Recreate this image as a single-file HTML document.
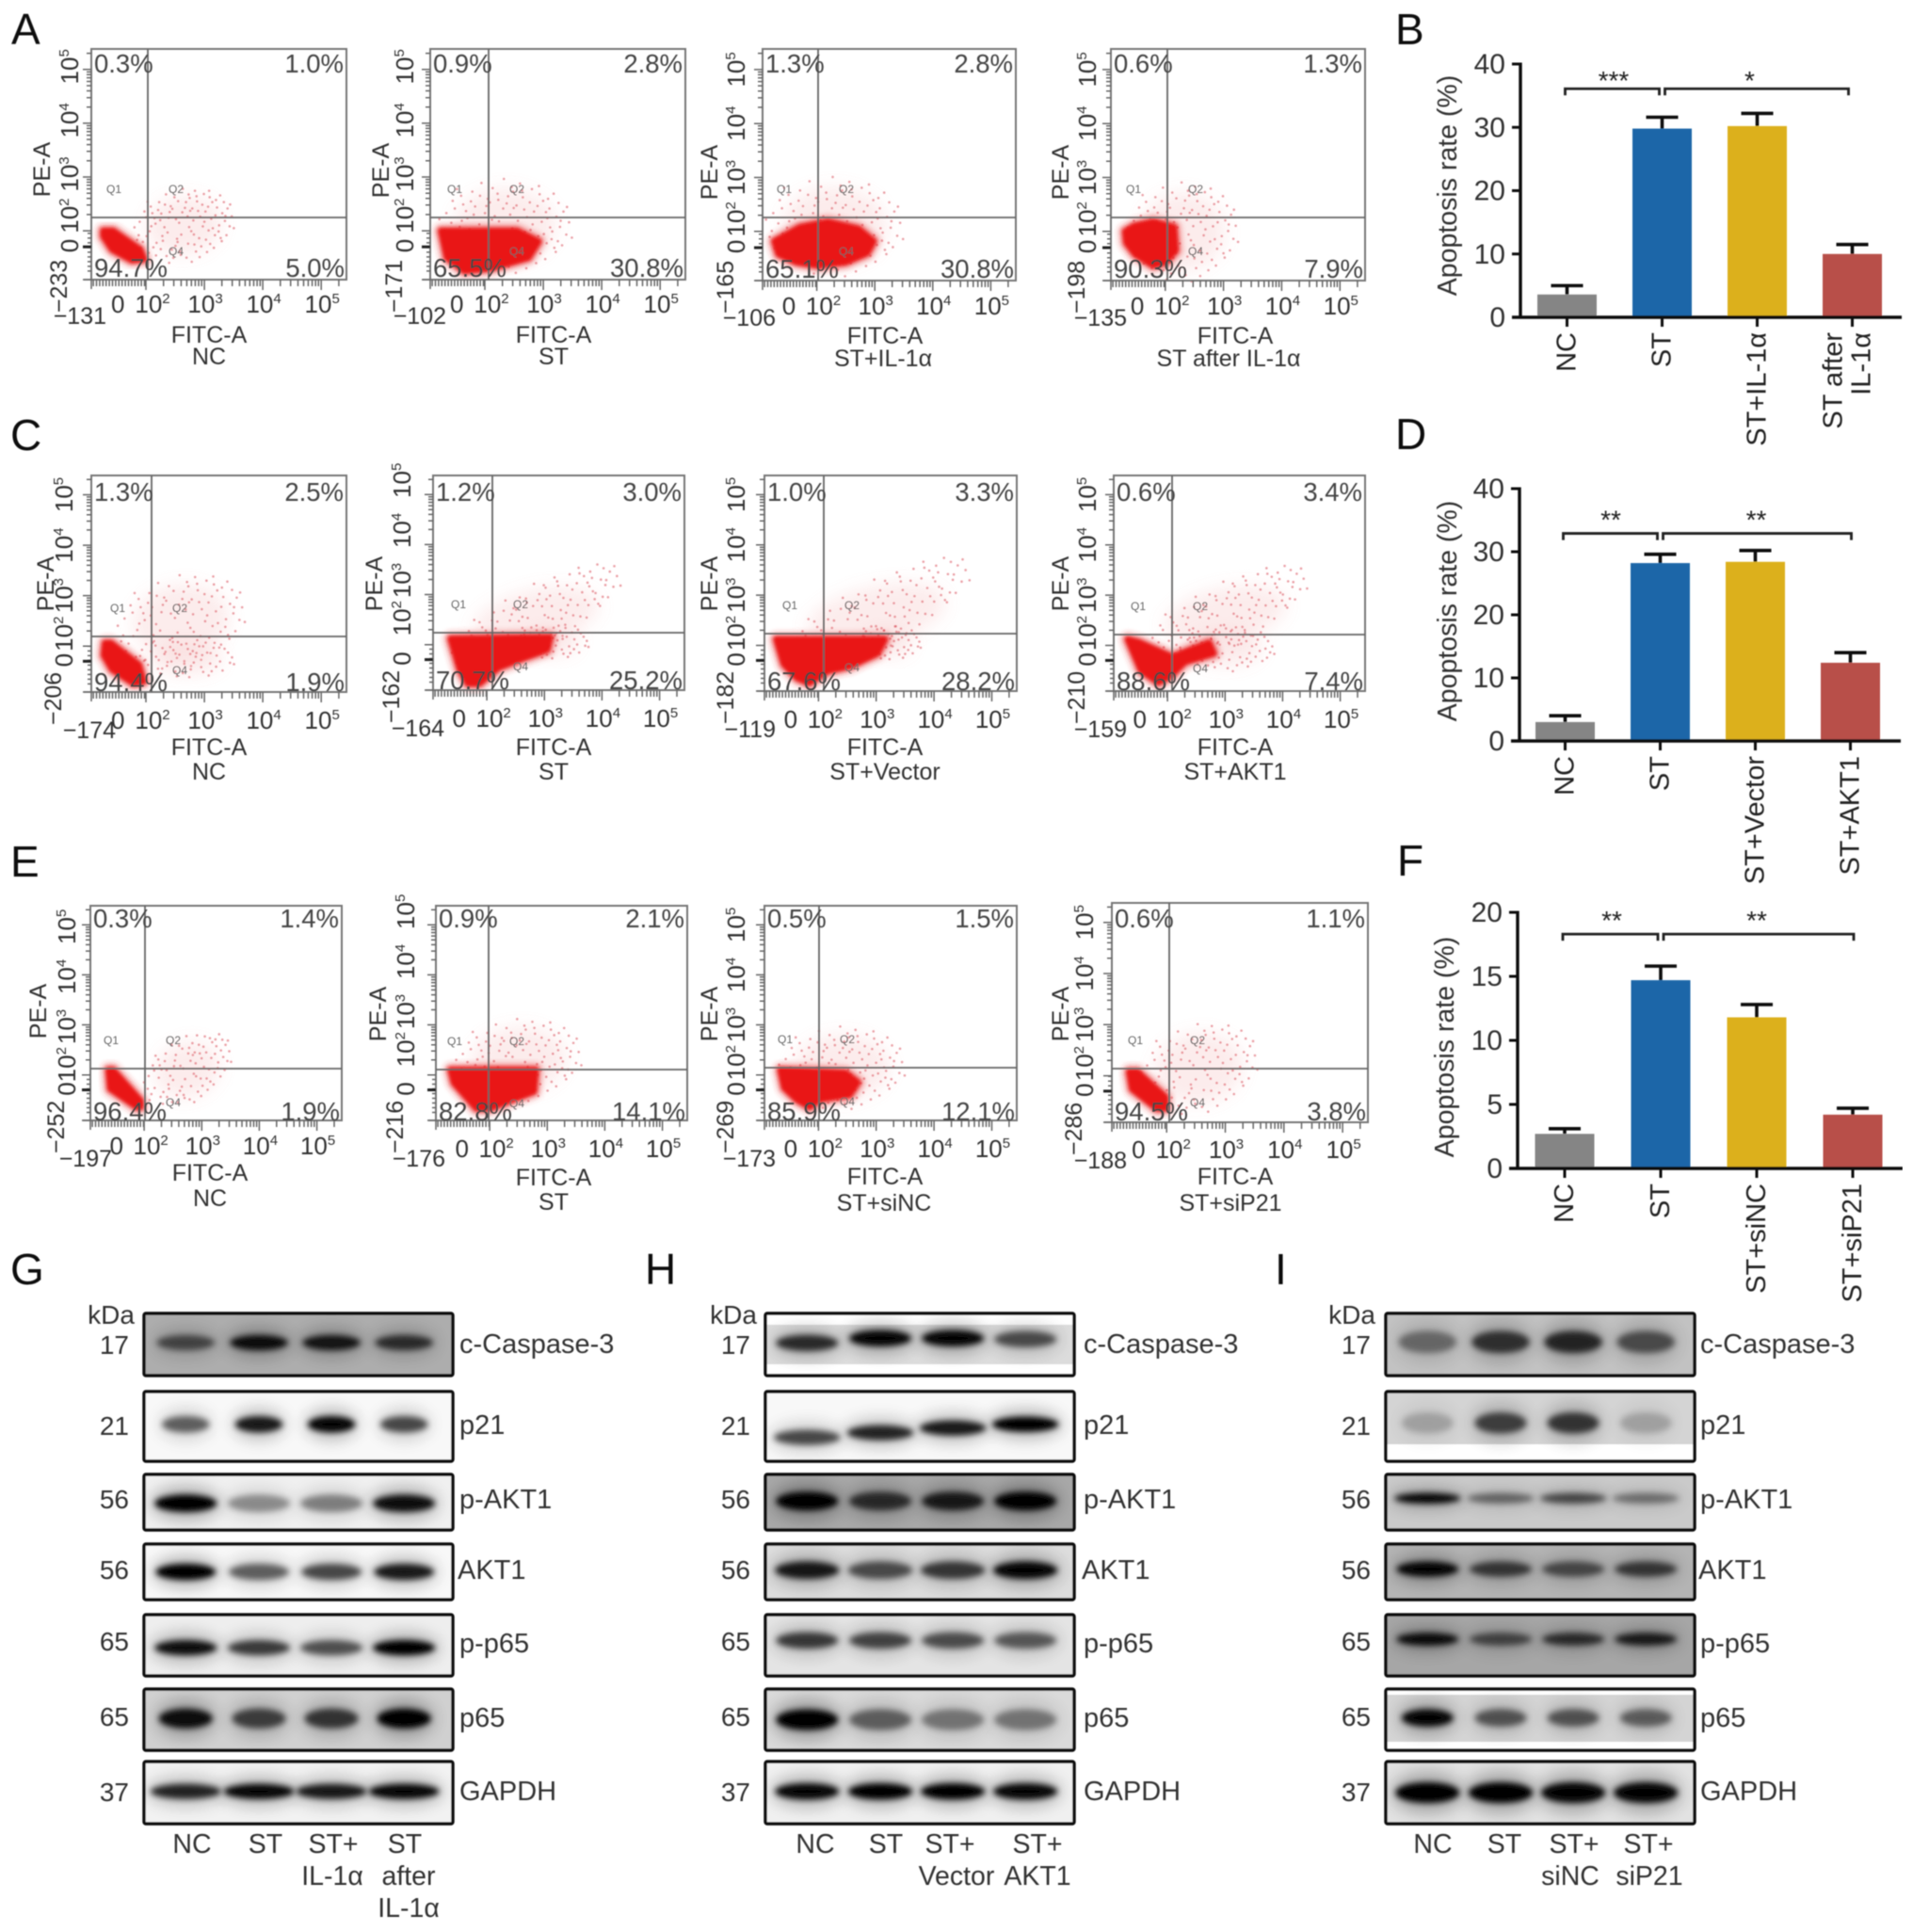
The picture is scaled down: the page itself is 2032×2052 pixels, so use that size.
<!DOCTYPE html>
<html lang="en">
<head>
<meta charset="utf-8">
<title>Apoptosis flow cytometry, bar charts and western blots</title>
<style>
html,body{margin:0;padding:0;background:#fff;}
svg{display:block;position:absolute;left:0;top:0;font-family:"Liberation Sans",Arial,sans-serif;}
</style>
</head>
<body>
<svg id="figure" xmlns="http://www.w3.org/2000/svg" width="2032" height="2052" viewBox="0 0 2032 2052">
<defs>
<filter id="page" x="0" y="0" width="100%" height="100%"><feGaussianBlur stdDeviation="0.55"/></filter>
<filter id="soft" x="-20%" y="-20%" width="140%" height="140%"><feGaussianBlur stdDeviation="1.8"/></filter>
<filter id="fringe" x="-30%" y="-30%" width="160%" height="160%"><feGaussianBlur stdDeviation="3"/></filter>
<filter id="haze" x="-40%" y="-40%" width="180%" height="180%"><feGaussianBlur stdDeviation="9"/></filter>
<filter id="band" x="-30%" y="-100%" width="160%" height="300%"><feGaussianBlur stdDeviation="3.2"/></filter>
<filter id="halo" x="-40%" y="-100%" width="180%" height="300%"><feGaussianBlur stdDeviation="8"/></filter>
</defs>
<rect width="2032" height="2052" fill="#fff"/>
<g id="root" filter="url(#page)"></g>
</svg>
<script>
// ---------- bar chart data ----------
const barCategoriesB = [["NC"],["ST"],["ST+IL-1α"],["ST after","IL-1α"]];
const barValuesB = [3.6, 29.8, 30.2, 10.0];
const barErrorTopsB = [5.0, 31.6, 32.2, 11.5];
const barTicksB = [0, 10, 20, 30, 40];
const barStarsB = ["***", "*"];
const barBracketValueB = 36.1;

const barCategoriesD = [["NC"],["ST"],["ST+Vector"],["ST+AKT1"]];
const barValuesD = [3.0, 28.2, 28.4, 12.4];
const barErrorTopsD = [4.0, 29.6, 30.2, 14.0];
const barTicksD = [0, 10, 20, 30, 40];
const barStarsD = ["**", "**"];
const barBracketValueD = 32.9;

const barCategoriesF = [["NC"],["ST"],["ST+siNC"],["ST+siP21"]];
const barValuesF = [2.7, 14.7, 11.8, 4.2];
const barErrorTopsF = [3.1, 15.8, 12.8, 4.7];
const barTicksF = [0, 5, 10, 15, 20];
const barStarsF = ["**", "**"];
const barBracketValueF = 18.3;

// ---------- flow cytometry data ----------
const flowSampleLabels = ["NC","ST","ST+IL-1α","ST after IL-1α","NC","ST","ST+Vector","ST+AKT1","NC","ST","ST+siNC","ST+siP21"];
const flowQuadrantPercents = [
 ["0.3%","1.0%","94.7%","5.0%"],["0.9%","2.8%","65.5%","30.8%"],["1.3%","2.8%","65.1%","30.8%"],["0.6%","1.3%","90.3%","7.9%"],
 ["1.3%","2.5%","94.4%","1.9%"],["1.2%","3.0%","70.7%","25.2%"],["1.0%","3.3%","67.6%","28.2%"],["0.6%","3.4%","88.6%","7.4%"],
 ["0.3%","1.4%","96.4%","1.9%"],["0.9%","2.1%","82.8%","14.1%"],["0.5%","1.5%","85.9%","12.1%"],["0.6%","1.1%","94.5%","3.8%"]];
const flowAxisMinX = [131,102,106,135,174,164,119,159,197,176,173,188];
const flowAxisMinY = [233,171,165,198,206,162,182,210,252,216,269,286];
const flowDecadeExponents = [2,3,4,5];
// dense event populations, outlines as [log10 FITC, log10 PE]
const flowDensePopulations = [
 [[1.27,2.0],[1.44,2.0],[1.9,1.65],[1.97,1.47],[1.76,1.45],[1.42,1.65],[1.27,1.9]],
 [[1.25,2.0],[2.55,2.0],[2.92,1.8],[2.75,1.5],[2.1,1.3],[1.65,1.25],[1.35,1.5]],
 [[1.27,1.82],[1.71,2.08],[2.19,2.18],[2.72,2.05],[2.98,1.82],[2.87,1.6],[2.5,1.43],[2.03,1.37],[1.65,1.43],[1.34,1.58]],
 [[1.31,2.0],[1.46,2.1],[1.79,2.18],[2.15,2.08],[2.18,1.65],[2.0,1.43],[1.79,1.37],[1.48,1.58],[1.33,1.79]],
 [[1.3,2.06],[1.40,2.06],[1.88,1.63],[1.96,1.3],[1.79,1.26],[1.42,1.54],[1.28,1.82]],
 [[1.37,2.12],[3.1,2.15],[3.05,1.9],[2.66,1.74],[2.2,1.54],[1.87,1.22],[1.67,1.22],[1.53,1.5]],
 [[1.27,2.12],[3.15,2.12],[3.02,1.84],[2.56,1.59],[2.16,1.49],[1.84,1.25],[1.63,1.35],[1.4,1.63]],
 [[1.31,2.12],[1.51,2.06],[2.08,1.77],[2.72,2.05],[2.8,1.84],[2.3,1.67],[2.06,1.4],[1.84,1.26],[1.54,1.5]],
 [[1.38,2.1],[1.46,2.1],[1.94,1.48],[1.94,1.36],[1.87,1.36],[1.41,1.72]],
 [[1.32,2.1],[2.8,2.1],[2.77,1.67],[2.38,1.5],[2,1.33],[1.77,1.33],[1.38,1.84]],
 [[1.34,2.1],[2.47,2.04],[2.68,1.85],[2.54,1.6],[2.02,1.51],[1.85,1.36],[1.63,1.5],[1.41,1.74]],
 [[1.36,2.08],[1.5,2.08],[1.98,1.58],[1.98,1.36],[1.83,1.36],[1.41,1.74]]];
// sparse event clouds: [centre FITC, centre PE, spread FITC, spread PE, event count, diagonal lean]
const flowSparseClouds = [
 [[2.65,2.1,.9,.75,110,.15]],
 [[2.35,2.1,1.2,.95,120,0]],
 [[2.3,2.1,1.25,1.0,120,0]],
 [[2.3,2.0,1.0,1.0,110,.05]],
 [[2.6,2.5,1.15,1.0,110,.2],[2.7,1.75,.85,.45,50,0]],
 [[2.85,2.55,1.55,.75,120,.55],[3.1,2.05,.7,.4,50,0]],
 [[3.0,2.6,1.7,.8,120,.55],[3.2,2.05,.6,.4,50,0]],
 [[3.0,2.6,1.5,.75,120,.5],[3.0,1.95,.9,.5,70,0]],
 [[2.75,2.1,.8,.75,90,.45]],
 [[2.5,2.3,1.15,.9,120,.1]],
 [[2.4,2.15,1.15,.9,120,.05]],
 [[2.55,2.15,1.05,.95,110,.2]]];
// event scatter, unit-spread offsets
const flowCloudEvents = [[.12,.34],[-.45,.21],[.67,-.12],[-.23,-.56],[.38,.71],[-.72,.33],[.05,-.81],[.83,.27],[-.58,-.44],[.29,-.37],
[-.11,.62],[.54,.48],[-.86,-.09],[.18,.09],[-.34,.83],[.72,-.52],[-.05,-.22],[.44,-.74],[-.63,.58],[.91,.06],
[.25,.55],[-.31,-.12],[.6,.14],[-.15,.18],[.08,-.47],[-.78,-.27],[.47,-.21],[-.49,.47],[.33,-.58],[.76,.44],
[-.2,-.77],[.02,.43],[-.94,.12],[.59,-.35],[-.4,-.31],[.21,.82],[-.62,.09],[.87,-.18],[.14,-.17],[-.27,.38],
[.41,.27],[-.53,-.65],[.69,.62],[-.08,-.63],[.31,.16],[-.69,.71],[.5,-.55],[-.18,.73],[.95,-.24],[.07,.21],
[-.37,.02],[.63,.33],[-.82,-.41],[.23,-.69],[-.12,-.39],[.35,.45],[-.56,.28],[.78,-.03],[.11,.66],[-.44,-.51],
[.52,.07],[-.25,.52],[.15,-.93],[-.71,-.14],[.42,-.43],[-.02,.91],[.81,-.39],[-.33,-.7],[.27,.31],[-.6,.41],
[.66,-.27],[-.09,.08],[.49,.61],[-.47,.66],[.19,-.26],[-.84,.24],[.73,.17],[-.16,-.48],[.36,-.09],[-.29,.24],
[.57,-.66],[.04,.57],[-.75,.48],[.88,.36],[-.41,-.19],[.16,.39],[-.52,-.34],[.61,.52],[-.06,-.72],[.3,-.84],
[-.22,.45],[.46,.38],[-.67,-.56],[.1,-.06],[.7,-.44],[-.36,.58],[.24,.68],[-.13,-.31],[.55,-.17],[-.89,-.2],
[.39,.02],[-.03,.33],[-.54,.14],[.79,.09],[.2,-.51],[-.65,-.03],[.48,.77],[-.28,-.88],[.09,.75],[-.43,.37],
[.64,-.04],[-.19,.11],[.34,-.27],[-.77,.05],[.58,.26],[-.1,.5],[.28,-.13],[-.51,-.08],[.75,-.31],[.01,-.36]];

// ---------- western blot data ----------
const blotRowLabels = ["c-Caspase-3","p21","p-AKT1","AKT1","p-p65","p65","GAPDH"];
const blotWeights = ["17","21","56","56","65","65","37"];
const blotLaneLabelsG = [["NC"],["ST"],["ST+","IL-1α"],["ST","after","IL-1α"]];
const blotLaneLabelsH = [["NC"],["ST"],["ST+","Vector"],["ST+","AKT1"]];
const blotLaneLabelsI = [["NC"],["ST"],["ST+","siNC"],["ST+","siP21"]];
const blotIntensityG = [[.55,.9,.85,.7],[.55,.85,.95,.65],[1,.35,.4,.9],[1,.55,.65,.85],[.9,.7,.6,1],[.9,.65,.7,1],[.8,.95,.85,.95]];
const blotIntensityH = [[.75,.95,.95,.6],[.65,.8,.85,1],[1,.7,.8,1],[.85,.6,.7,.95],[.7,.65,.6,.55],[1,.5,.4,.4],[.95,1,1,.95]];
const blotIntensityI = [[.4,.7,.75,.55],[.2,.65,.7,.2],[.95,.45,.6,.4],[.95,.65,.55,.65],[.9,.55,.7,.8],[.95,.55,.55,.5],[1,1,.95,.95]];

// ---------- layout (pixels, not data) ----------
const SVGNS = "http://www.w3.org/2000/svg";
const root = document.getElementById("root");
function svgEl(tag, attrs, parent){
  const e = document.createElementNS(SVGNS, tag);
  for(const k in attrs) e.setAttribute(k, attrs[k]);
  (parent || root).appendChild(e);
  return e;
}
function txt(parent, str, x, y, size, fill, anchor, extra){
  const a = Object.assign({x:x, y:y, "font-size":size, fill:fill, "text-anchor":anchor||"start"}, extra||{});
  const e = svgEl("text", a, parent);
  e.textContent = str;
  return e;
}
function slug(s){ return s.toLowerCase().replace(/[^a-z0-9]+/g,"-").replace(/^-|-$/g,""); }

// panel letters
const letterLayout = [["A",12,47],["B",1482,47],["C",11,478],["D",1482,477],["E",11,931],["F",1484,930],["G",11,1364],["H",685,1364],["I",1354,1364]];
letterLayout.forEach(function(l){
  const el = txt(root, l[0], l[1], l[2], 46, "#111");
  
  
});

// ---------- flow plots ----------
const flowFrames = [
 {L:97,R:368,T:52,B:297,gx:157,gy:231,pb:53,pc:180,fx:222,sx:222,fy:364,sy:387,minDx:16,yb:-14,ys:-3,to:25,bo:3,ty:35,my:47},
 {L:457,R:728,T:52,B:297,gx:519,gy:231,pb:413,pc:181,fx:588,sx:588,fy:364,sy:387,minDx:17,yb:-18,ys:-3,to:25,bo:3,ty:35,my:47},
 {L:810,R:1079,T:52,B:298,gx:869,gy:231,pb:762,pc:183,fx:940,sx:938,fy:365,sy:389,minDx:14,yb:-19,ys:0,to:25,bo:3,ty:36,my:48},
 {L:1180,R:1450,T:52,B:298,gx:1240,gy:231,pb:1135,pc:183,fx:1312,sx:1305,fy:365,sy:389,minDx:17,yb:-16,ys:0,to:25,bo:3,ty:36,my:48},
 {L:97,R:368,T:505,B:735,gx:161,gy:676,pb:57,pc:620,fx:222,sx:222,fy:802,sy:828,minDx:26,yb:-20,ys:0,to:27,bo:1,ty:39,my:49},
 {L:460,R:727,T:505,B:733,gx:523,gy:672,pb:406,pc:620,fx:588,sx:588,fy:802,sy:828,minDx:12,yb:-24,ys:-15,to:27,bo:1,ty:39,my:49},
 {L:812,R:1080,T:505,B:734,gx:875,gy:673,pb:762,pc:620,fx:940,sx:940,fy:802,sy:828,minDx:12,yb:-21,ys:0,to:27,bo:1,ty:39,my:49},
 {L:1183,R:1450,T:505,B:734,gx:1245,gy:674,pb:1135,pc:620,fx:1312,sx:1312,fy:802,sy:828,minDx:14,yb:-19,ys:0,to:27,bo:1,ty:39,my:49},
 {L:96,R:363,T:962,B:1190,gx:154,gy:1135,pb:49,pc:1074,fx:223,sx:223,fy:1254,sy:1281,minDx:23,yb:-16,ys:2,to:23,bo:0,ty:36,my:49},
 {L:463,R:730,T:962,B:1190,gx:519,gy:1136,pb:410,pc:1077,fx:588,sx:588,fy:1259,sy:1285,minDx:10,yb:-23,ys:-14,to:23,bo:0,ty:39,my:49},
 {L:812,R:1080,T:962,B:1190,gx:870,gy:1134,pb:762,pc:1077,fx:940,sx:939,fy:1258,sy:1286,minDx:12,yb:-21,ys:0,to:23,bo:0,ty:39,my:49},
 {L:1181,R:1453,T:959,B:1192,gx:1242,gy:1135,pb:1135,pc:1077,fx:1312,sx:1307,fy:1258,sy:1286,minDx:16,yb:-20,ys:0,to:26,bo:2,ty:38,my:49}];

function flowX(f, dec){ const W = f.R - f.L; return f.L + (0.214 + (dec - 2) * 0.229) * W; }
function flowY(f, dec){ const H = f.B - f.T; return f.B - (0.212 + (dec - 2) * 0.233) * H; }

flowFrames.forEach(function(f, i){
  const g = svgEl("g", {});
  
  

  // sparse cloud haze and events
  flowSparseClouds[i].forEach(function(c){
    const cx = flowX(f, c[0]), cy = flowY(f, c[1]);
    const rx = c[2] * 0.229 * (f.R - f.L), ry = c[3] * 0.233 * (f.B - f.T);
    const lean = (-Math.atan2(c[5] * ry, rx) * 180 / Math.PI).toFixed(1);
    const haze = svgEl("ellipse", {cx:cx, cy:cy, rx:rx*0.72, ry:ry*0.72, fill:"#f0a0a0", opacity:0.2, filter:"url(#haze)", transform:"rotate(" + lean + " " + cx + " " + cy + ")"}, g);
    
    
    flowCloudEvents.slice(0, c[4]).forEach(function(ev){
      const dot = svgEl("circle", {cx:flowX(f, c[0] + ev[0]*c[2]), cy:flowY(f, c[1] + ev[1]*c[3] + ev[0]*c[2]*c[5]), r:1.3, fill:"#d8444f", opacity:0.5}, g);
      
      
    });
  });

  // dense population
  const pts = flowDensePopulations[i].map(function(p){ return flowX(f, p[0]).toFixed(1) + "," + flowY(f, p[1]).toFixed(1); }).join(" ");
  const fringe = svgEl("polygon", {points:pts, fill:"#e83030", stroke:"#e83030", "stroke-width":15, "stroke-linejoin":"round", opacity:0.4, filter:"url(#fringe)"}, g);
  
  
  const dense = svgEl("polygon", {points:pts, fill:"#e91414", stroke:"#e91414", "stroke-width":7, "stroke-linejoin":"round", filter:"url(#soft)"}, g);
  
  

  // frame and gates
  const frame = svgEl("rect", {x:f.L, y:f.T, width:f.R-f.L, height:f.B-f.T, fill:"none", stroke:"#777", "stroke-width":2}, g);
  
  
  const gateV = svgEl("line", {x1:f.gx, x2:f.gx, y1:f.T, y2:f.B, stroke:"#666", "stroke-width":1.8}, g);
  
  
  const gateH = svgEl("line", {x1:f.L, x2:f.R, y1:f.gy, y2:f.gy, stroke:"#666", "stroke-width":1.8}, g);
  
  

  // axis ticks
  let dTicksX = "M" + f.L + " " + f.B + "v10M" + (f.L - 8) + " " + f.B + "h8";
  let dTicksY = "M" + (f.L - 9) + " " + f.B + "h9";
  for(let d = flowX(f, 1.1); d < flowX(f, 2); d += 3.4) dTicksX += "M" + d.toFixed(1) + " " + f.B + "v7";
  for(let d = flowY(f, 1.25); d > flowY(f, 2); d -= 5) dTicksY += "M" + (f.L - 4) + " " + d.toFixed(1) + "h4";
  flowDecadeExponents.forEach(function(e){
    dTicksX += "M" + flowX(f, e).toFixed(1) + " " + f.B + "v11";
    dTicksY += "M" + (f.L - 9) + " " + flowY(f, e).toFixed(1) + "h9";
    [2,3,4,5,6,7,8,9].forEach(function(m){
      const o = e + Math.log10(m);
      if(flowX(f, o) < f.R) dTicksX += "M" + flowX(f, o).toFixed(1) + " " + f.B + "v7";
      if(flowY(f, o) > f.T) dTicksY += "M" + (f.L - 5) + " " + flowY(f, o).toFixed(1) + "h5";
    });
  });
  const tx = svgEl("path", {d:dTicksX, stroke:"#666", "stroke-width":1.5, fill:"none"}, g);
  
  
  const ty = svgEl("path", {d:dTicksY, stroke:"#666", "stroke-width":1.5, fill:"none"}, g);
  
  
  const zeroTick = svgEl("line", {x1:f.L-9, x2:f.L, y1:flowY(f,1.7), y2:flowY(f,1.7), stroke:"#222", "stroke-width":3}, g);
  
  

  // quadrant percentages
  const q = flowQuadrantPercents[i];
  const qa = [[f.L+3, f.T+f.to, "start"],[f.R-3, f.T+f.to, "end"],[f.L+3, f.B-f.bo, "start"],[f.R-2, f.B-f.bo, "end"]];
  q.forEach(function(v, k){
    const t = txt(g, v, qa[k][0], qa[k][1], 27.5, "#444", qa[k][2]);
    
    
  });
  [["Q1",f.gx-36,f.gy-26],["Q2",f.gx+30,f.gy-26],["Q4",f.gx+30,f.gy+40]].forEach(function(ql){
    const t = txt(g, ql[0], ql[1], ql[2], 12, "#666", "middle");
    
    
  });

  // x tick labels
  flowDecadeExponents.forEach(function(e){
    const t = txt(g, "10", flowX(f, e) + 1 + (e === 2 ? 6 : 0), f.B + f.ty, 26, "#333", "middle");
    const s = svgEl("tspan", {dy:-10, "font-size":15}, t);
    s.textContent = e;
    
    
  });
  const xz = txt(g, "0", flowX(f, 1.52), f.B + f.ty, 26, "#333", "middle");
  
  
  const xm = txt(g, "−" + flowAxisMinX[i], f.L + f.minDx, f.B + f.my, 25, "#333", "end");
  
  

  // y tick labels (rotated)
  const by = f.L + f.yb;
  flowDecadeExponents.forEach(function(e){
    const cy = flowY(f, e) + f.ys + (e === 2 ? -13 : 0);
    const t = txt(g, "10", by, cy, 26, "#333", "middle", {transform:"rotate(-90 " + by + " " + cy.toFixed(1) + ")"});
    const s = svgEl("tspan", {dy:-10, "font-size":15}, t);
    s.textContent = e;
    
    
  });
  const zy = flowY(f, 1.72);
  const yz = txt(g, "0", by, zy, 26, "#333", "middle", {transform:"rotate(-90 " + by + " " + zy.toFixed(1) + ")"});
  
  
  const ymc = f.B + 7, ymb = by - 12;
  const ym = txt(g, "−" + flowAxisMinY[i], ymb, ymc, 25, "#333", "middle", {transform:"rotate(-90 " + ymb + " " + ymc + ")"});
  
  

  // axis titles
  const pe = txt(g, "PE-A", f.pb, f.pc, 25, "#333", "middle", {transform:"rotate(-90 " + f.pb + " " + f.pc + ")"});
  
  
  const fi = txt(g, "FITC-A", f.fx, f.fy, 25, "#333", "middle");
  
  
  const sa = txt(g, flowSampleLabels[i], f.sx, f.sy, 25, "#333", "middle");
  
  
});

// ---------- bar charts ----------
const barColors = ["#858585", "#1a66a8", "#dcb01e", "#b84f48"];
function drawBarChart(name, cfg, cats, vals, errs, ticks, stars, bracketValue){
  const g = svgEl("g", {});
  
  
  const maxV = ticks[ticks.length - 1];
  const y = function(v){ return cfg.y0 - (v / maxV) * (cfg.y0 - cfg.yTop); };
  const x = function(i){ return cfg.x0 + i * cfg.step; };
  const barW = 63;

  vals.forEach(function(v, i){
    const cap = svgEl("path", {d:"M" + x(i) + " " + y(v) + "V" + y(errs[i]) + "M" + (x(i)-17) + " " + y(errs[i]) + "h34", stroke:"#111", "stroke-width":3.6, fill:"none"}, g);
    
    
    const bar = svgEl("rect", {x:x(i) - barW/2, y:y(v), width:barW, height:cfg.y0 - y(v), fill:barColors[i]}, g);
    
    
  });

  const yAxis = svgEl("line", {x1:cfg.axisX, x2:cfg.axisX, y1:cfg.yTop - 1.5, y2:cfg.y0, stroke:"#111", "stroke-width":3.4}, g);
  
  
  const xAxis = svgEl("line", {x1:cfg.axisX - 9, x2:cfg.axisEnd, y1:cfg.y0, y2:cfg.y0, stroke:"#111", "stroke-width":3.4}, g);
  
  

  ticks.forEach(function(t){
    const tick = svgEl("line", {x1:cfg.axisX - 9, x2:cfg.axisX, y1:y(t), y2:y(t), stroke:"#111", "stroke-width":3}, g);
    
    
    const lab = txt(g, String(t), cfg.axisX - 16, y(t) + 10, 30, "#333", "end");
    
    
  });

  cats.forEach(function(lines, i){
    const tick = svgEl("line", {x1:x(i), x2:x(i), y1:cfg.y0, y2:cfg.y0 + 10, stroke:"#111", "stroke-width":3}, g);
    
    
    lines.forEach(function(line, k){
      const bx = x(i) + 9 + (lines.length === 2 ? (k === 0 ? -20 : 10) : 0);
      const by = cfg.y0 + 16;
      const lab = txt(g, line, bx, by, 29, "#222", "end", {transform:"rotate(-90 " + bx + " " + by + ")"});
      
      
    });
  });

  const title = txt(g, "Apoptosis rate (%)", cfg.titleX, cfg.titleY, 28.5, "#333", "middle", {transform:"rotate(-90 " + cfg.titleX + " " + cfg.titleY + ")"});
  
  

  const by = y(bracketValue);
  const br1 = svgEl("path", {d:"M" + (x(0)-2) + " " + (by+7) + "V" + by + "H" + (x(1)-3) + "V" + (by+7), stroke:"#222", "stroke-width":2.8, fill:"none"}, g);
  
  
  const br2 = svgEl("path", {d:"M" + (x(1)+3) + " " + (by+7) + "V" + by + "H" + (x(3)-2 + cfg.brR) + "V" + (by+7), stroke:"#222", "stroke-width":2.8, fill:"none"}, g);
  
  
  const s1 = txt(g, stars[0], (x(0) + x(1)) / 2 + cfg.s1x, by + cfg.sdy, 28, "#222", "middle");
  
  
  const s2 = txt(g, stars[1], x(1) + (x(3) - x(1)) / 2 + cfg.s2x, by + cfg.sdy, 28, "#222", "middle");
  
  
}
drawBarChart('bar-chart-b', {axisX:1615, axisEnd:2020, y0:337, yTop:68, x0:1664.5, step:101, titleX:1547, titleY:197, brR:-2, s1x:-1, s2x:-8, sdy:1}, barCategoriesB, barValuesB, barErrorTopsB, barTicksB, barStarsB, barBracketValueB);
drawBarChart('bar-chart-d', {axisX:1614, axisEnd:2019, y0:787, yTop:519, x0:1662.5, step:101, titleX:1547, titleY:649, brR:3, s1x:-2, s2x:1, sdy:-5}, barCategoriesD, barValuesD, barErrorTopsD, barTicksD, barStarsD, barBracketValueD);
drawBarChart('bar-chart-f', {axisX:1612, axisEnd:2021, y0:1241, yTop:969, x0:1662, step:102, titleX:1544, titleY:1112, brR:3, s1x:-1, s2x:0, sdy:-5}, barCategoriesF, barValuesF, barErrorTopsF, barTicksF, barStarsF, barBracketValueF);

// ---------- western blots ----------
const blotBoxY = [[1395,1461],[1478,1552],[1566,1625],[1640,1699],[1715,1780],[1794,1859],[1871,1937]];
const blotLaneFractions = [.135,.372,.607,.842];
const blotBaselines = [1438,1524,1602,1677,1753,1833,1913];
const blotLabelBaselines = [1437,1523,1602,1677,1755,1834,1912];
const blotStyles = {
  G:{x0:153,x1:481,numEnd:137,kdaC:118,labelX:489,bg:["#adadad","#f8f8f8","#f0f0f0","#f8f8f8","#eeeeee","#d0d0d0","#f2f2f2"],bw:[56,46,60,58,60,52,68],bh:[13,14,15,14,13,17,13],by:[.47,.47,.52,.5,.54,.48,.48],
     lanes:[[204,0],[282,0],[354,0],[430,0]],shift:{}},
  H:{x0:813,x1:1141,numEnd:797,kdaC:779,labelX:1152,bg:["#dcdcdc","#f8f8f8","#a8a8a8","#dddddd","#e4e4e4","#dadada","#f0f0f0"],bw:[60,64,60,62,60,60,62],bh:[14,13,16,15,14,18,14],by:[.43,.55,.48,.47,.42,.5,.48],
     lanes:[[866,0],[941,0],[1009,0],[1102,0]],shift:{1:[8,3,-2,-6],0:[3,-2,-2,-1]},inset:{0:[12,12]}},
  I:{x0:1472,x1:1800,numEnd:1456,kdaC:1436,labelX:1807,bg:["#c2c2c2","#d4d4d4","#cacaca","#b4b4b4","#a6a6a6","#d4d4d4","#e2e2e2"],bw:[56,50,64,60,60,50,62],bh:[19,18,9,13,11,15,18],by:[.46,.45,.43,.45,.4,.47,.5],
     lanes:[[1522,0],[1598,0],[1672,0],[1751,0]],shift:{},inset:{1:[0,18],5:[6,9]}}
};
function drawBlot(key, intensity, laneLabels, laneBase){
  const st = blotStyles[key];
  const g = svgEl("g", {});
  
  
  const kda = txt(g, "kDa", st.kdaC, 1406, 28, "#333", "middle");
  
  
  blotRowLabels.forEach(function(label, r){
    const y0 = blotBoxY[r][0], y1 = blotBoxY[r][1], W = st.x1 - st.x0;
    const clip = svgEl("clipPath", {id:"clip-" + key + r}, g);
    svgEl("rect", {x:st.x0, y:y0, width:W, height:y1 - y0}, clip);
    const row = svgEl("g", {"clip-path":"url(#clip-" + key + r + ")"}, g);
    
    
    const ins = (st.inset && st.inset[r]) || [0,0];
    const bgWhite = svgEl("rect", {x:st.x0, y:y0, width:W, height:y1 - y0, fill:"#fff"}, row);
    
    
    const bg = svgEl("rect", {x:st.x0, y:y0 + ins[0], width:W, height:y1 - y0 - ins[0] - ins[1], fill:st.bg[r]}, row);
    
    
    const shifts = st.shift[r] || [0,0,0,0];
    intensity[r].forEach(function(v, l){
      const cx = st.x0 + blotLaneFractions[l] * W, cy = y0 + st.by[r] * (y1 - y0) + shifts[l];
      const halo = svgEl("ellipse", {cx:cx, cy:cy, rx:st.bw[r]*0.62, ry:st.bh[r]*1.25, fill:"#000", opacity:(v*0.25).toFixed(2), filter:"url(#halo)"}, row);
      
      
      const band = svgEl("ellipse", {cx:cx, cy:cy, rx:st.bw[r]*0.55, ry:st.bh[r]*0.62, fill:"#000", opacity:(Math.min(1, v*1.02)).toFixed(2), filter:"url(#band)"}, row);
      
      
    });
    const box = svgEl("rect", {x:st.x0, y:y0, width:W, height:y1 - y0, rx:2, fill:"none", stroke:"#111", "stroke-width":3.4}, g);
    
    
    const w = txt(g, blotWeights[r], st.numEnd, blotBaselines[r], 28, "#333", "end");
    
    
    const n = txt(g, label, st.labelX - 1 - (label === "AKT1" ? 2 : 0), blotLabelBaselines[r], 29, "#333");
    
    
  });
  laneLabels.forEach(function(lines, l){
    lines.forEach(function(line, k){
      const t = txt(g, line, st.lanes[l][0] + (k > 0 ? laneBase[l] : 0), 1968 + k * 34, 28.5, "#333", "middle");
      
      
    });
  });
}
drawBlot("G", blotIntensityG, blotLaneLabelsG, [0,0,-1,4]);
drawBlot("H", blotIntensityH, blotLaneLabelsH, [0,0,7,0]);
drawBlot("I", blotIntensityI, blotLaneLabelsI, [0,0,-4,1]);
</script>
</body>
</html>
